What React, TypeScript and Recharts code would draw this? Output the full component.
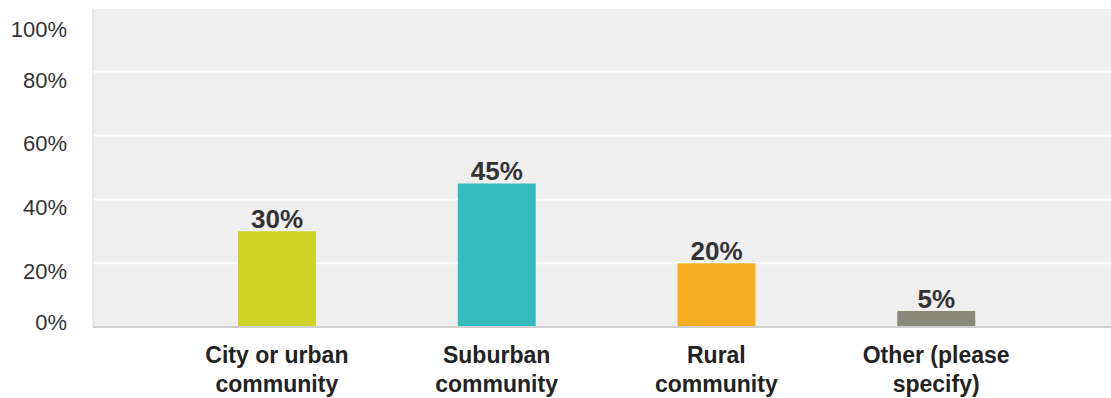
import { BarChart, Bar, XAxis, YAxis, CartesianGrid, Cell, LabelList } from 'recharts';

const categories = ['City or urban\ncommunity', 'Suburban\ncommunity', 'Rural\ncommunity', 'Other (please\nspecify)'];
const percents = [30, 45, 20, 5];
const barColors = ['#cfd327', '#34bcbd', '#f6ae21', '#8a8a7a'];
const yTicks = [0, 20, 40, 60, 80, 100];

const FONT = '"Liberation Sans", Arial, Helvetica, sans-serif';

const data = categories.map((name, i) => ({ name, value: percents[i] }));

function CategoryTick({ x, y, payload }: any) {
  const lines = String(payload.value).split('\n');
  return (
    <text x={x} textAnchor="middle" fontFamily={FONT} fontSize={23} fontWeight="bold" fill="#222">
      {lines.map((line, i) => (
        <tspan key={i} x={x} y={y + 36 + i * 29}>
          {line}
        </tspan>
      ))}
    </text>
  );
}

function PercentTick({ x, y, payload }: any) {
  // labels sit a bit under their gridline, clamped at top and bottom
  const cy = Math.min(Math.max(y + 8, 29), 322);
  return (
    <text x={x} y={cy} dy="0.35em" textAnchor="end" fontFamily={FONT} fontSize={22} fill="#333">
      {payload.value}%
    </text>
  );
}

export default function App() {
  return (
    <div style={{ position: 'absolute', left: 0, top: 0, background: '#fff' }}>
      <BarChart width={1111} height={398} data={data} margin={{ top: 8, right: 0, bottom: 0, left: 0 }}>
        <CartesianGrid vertical={false} stroke="#ffffff" strokeWidth={2} fill="#efefef" />
        <XAxis
          dataKey="name"
          height={71}
          interval={0}
          padding={{ left: 74, right: 65 }}
          tickLine={false}
          tickSize={0}
          tickMargin={0}
          axisLine={{ stroke: '#cfcfcf', strokeWidth: 2 }}
          tick={<CategoryTick />}
        />
        <YAxis
          width={93}
          domain={[0, 100]}
          ticks={yTicks}
          interval={0}
          tickLine={false}
          tickSize={0}
          tickMargin={26}
          axisLine={{ stroke: '#d8d8d8', strokeWidth: 1 }}
          tick={<PercentTick />}
        />
        <Bar dataKey="value" barSize={78} isAnimationActive={false}>
          {data.map((_, i) => (
            <Cell key={i} fill={barColors[i]} />
          ))}
          <LabelList
            dataKey="value"
            position="top"
            offset={3}
            formatter={(v: any) => `${v}%`}
            style={{ fontFamily: FONT, fontSize: 26, fontWeight: 'bold', fill: '#333' }}
          />
        </Bar>
      </BarChart>
    </div>
  );
}
